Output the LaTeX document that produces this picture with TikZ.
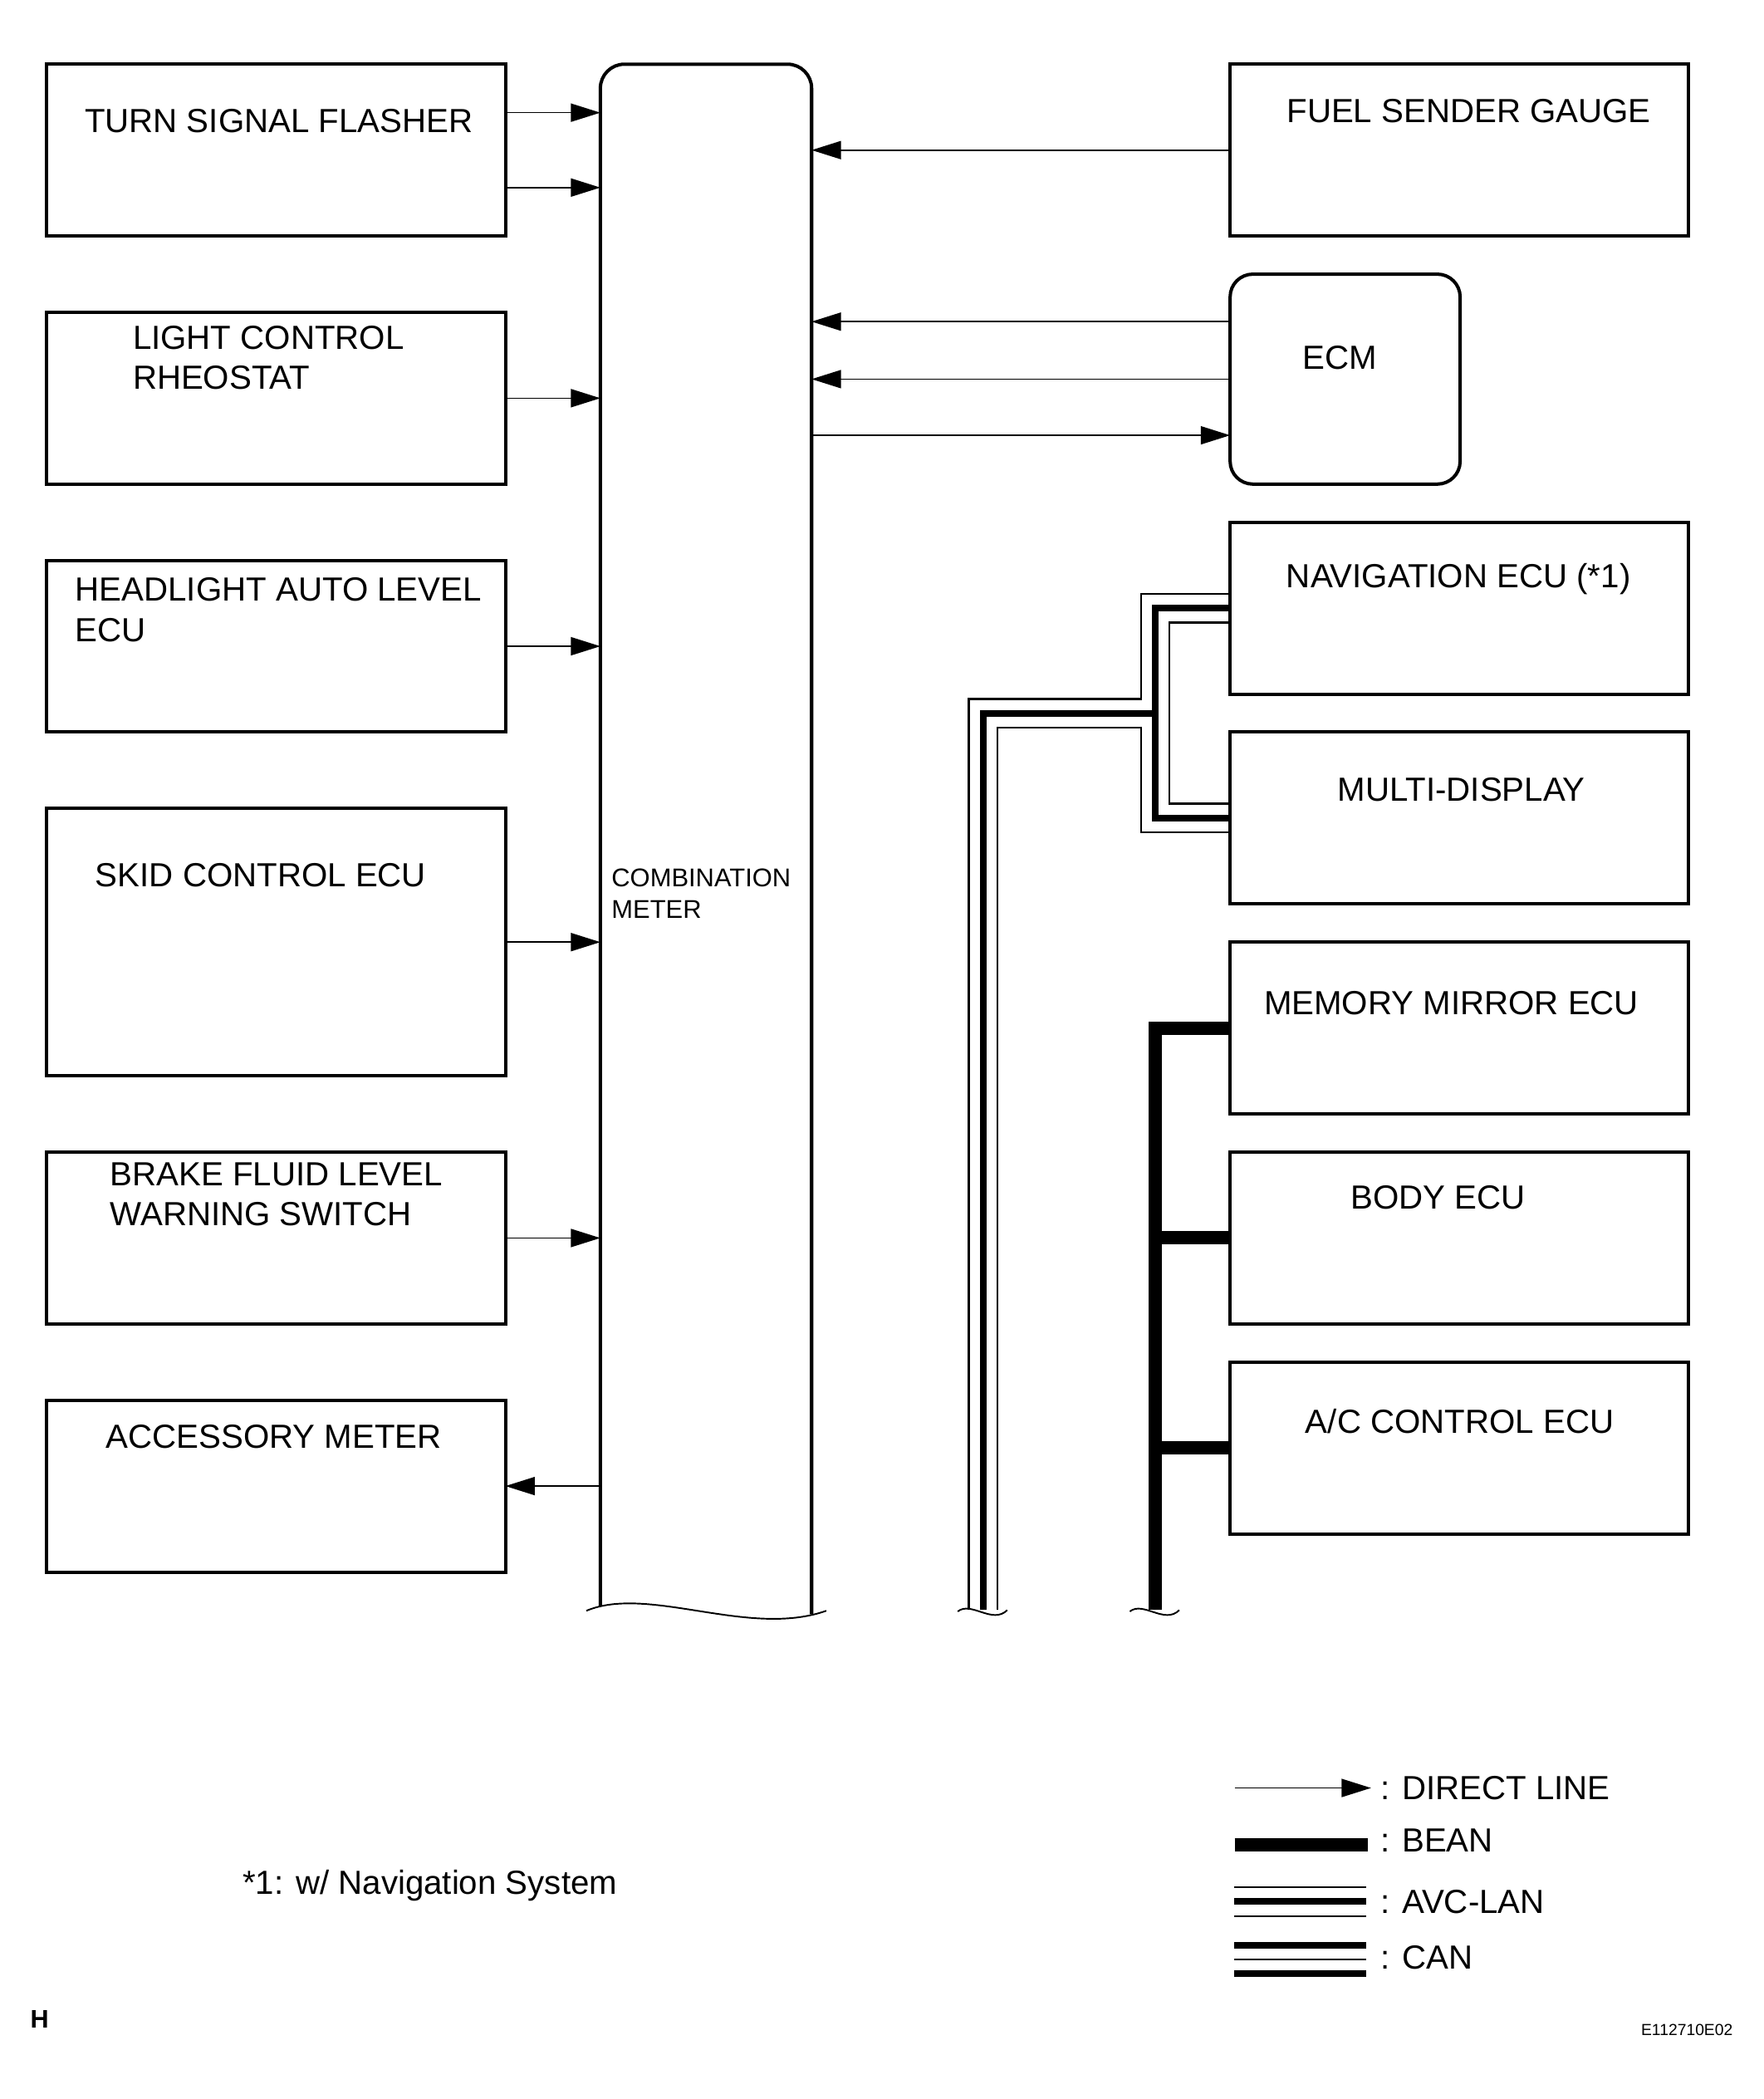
\documentclass[tikz,border=0pt]{standalone}
\usepackage{fontspec}
\setmainfont{Liberation Sans}
\usetikzlibrary{positioning}
\usetikzlibrary{arrows.meta}
\usetikzlibrary{calc}

\newcommand{\boxfont}{\fontsize{12.5}{15}\selectfont}
\newcommand{\meterfont}{\fontsize{9.6}{12}\selectfont}
\def\avcgap{10.75}

\tikzset{
  ecubox/.style={draw=black, line width=1.25pt, minimum width=171.5pt,
                 minimum height=64.25pt, inner sep=0pt, outer sep=0pt},
  lbl/.style={anchor=north west, inner sep=0pt, align=left, font=\boxfont},
  lgd/.style={anchor=west, inner sep=0pt, font=\boxfont},
  direct/.style={line width=0.5pt, -{Triangle[length=11pt,width=6.8pt]}},
  bean/.style={line width=5pt},
  avcthin/.style={line width=0.7pt},
  avcthick/.style={line width=2.5pt},
  brk/.style={line width=0.6pt},
}

\begin{document}
\begin{tikzpicture}[x=0.5pt, y=-0.5pt]

        \useasboundingbox (0,0) rectangle (1319.25,1569.6);

        \node (tsf) [ecubox, anchor=north west] at (35,48) {};
        \node (lcr) [ecubox, below=28.5pt of tsf] {};
        \node (hal) [ecubox, below=28.5pt of lcr] {};
        \node (skid) [ecubox, below=28.5pt of hal, minimum height=100pt] {};
        \node (brake) [ecubox, below=28.5pt of skid] {};
        \node (acc) [ecubox, below=28.5pt of brake] {};

        \node (fuel) [ecubox, anchor=north west] at (920,48) {};
        \node (ecm) [ecubox, below=14.25pt of fuel.south west, anchor=north west,
                     minimum width=86pt,
                     minimum height=78.5pt,
                     rounded corners=8.5pt,
                     ] {};
        \node (nav) [ecubox, below=14.25pt of ecm.south west, anchor=north west] {};
        \node (multi) [ecubox, below=14.25pt of nav] {};
        \node (mem) [ecubox, below=14.25pt of multi] {};
        \node (body) [ecubox, below=14.25pt of mem] {};
        \node (ac) [ecubox, below=14.25pt of body] {};

        \node[lbl] (tsf-t) at ([shift={(28,33)}]tsf.north west) {TURN SIGNAL FLASHER};
        \node[lbl] (lcr-t) at ([shift={(64,9.8)}]lcr.north west) {LIGHT CONTROL\\RHEOSTAT};
        \node[lbl] (hal-t) at ([shift={(21,12.7)}]hal.north west) {HEADLIGHT AUTO LEVEL\\ECU};
        \node[lbl] (skid-t) at ([shift={(36,40.5)}]skid.north west) {SKID CONTROL ECU};
        \node[lbl] (brake-t) at ([shift={(47,7.5)}]brake.north west) {BRAKE FLUID LEVEL\\WARNING SWITCH};
        \node[lbl] (acc-t) at ([shift={(44,18)}]acc.north west) {ACCESSORY METER};
        \node[lbl] (fuel-t) at ([shift={(42,26)}]fuel.north west) {FUEL SENDER GAUGE};
        \node[lbl] (ecm-t) at ([shift={(54,53)}]ecm.north west) {ECM};
        \node[lbl] (nav-t) at ([shift={(41.7,30.5)}]nav.north west) {NAVIGATION ECU (*1)};
        \node[lbl] (multi-t) at ([shift={(80,33.5)}]multi.north west) {MULTI-DISPLAY};
        \node[lbl] (mem-t) at ([shift={(25,36.5)}]mem.north west) {MEMORY MIRROR ECU};
        \node[lbl] (body-t) at ([shift={(90,24.5)}]body.north west) {BODY ECU};
        \node[lbl] (ac-t) at ([shift={(56,34.5)}]ac.north west) {A/C CONTROL ECU};

        \node (meter) [minimum width=79pt,
                       minimum height=576.5pt,
                       inner sep=0pt, outer sep=0pt,
                       anchor=north west,
                       ] at (449,48) {};
        \draw[line width=1.25pt, rounded corners=9pt] (meter.south west) -- (meter.north west)
            -- (meter.north east) -- ([yshift=-3pt]meter.south east);
        \draw[brk] ([shift={(-10.5,3.5)}]meter.south west)
            .. controls ([shift={(36,-16)}]meter.south west) and ([shift={(111,24)}]meter.south west)
            .. ([shift={(169,3.5)}]meter.south west);
        \node[lbl, font=\meterfont] (meter-t) at ([shift={(8,601)}]meter.north west) {COMBINATION\\METER};

        \draw[direct] ([yshift=14pt]tsf.east) -- ([yshift=14pt]tsf.east -| meter.west);
        \draw[direct] ([yshift=-14pt]tsf.east) -- ([yshift=-14pt]tsf.east -| meter.west);
        \foreach \n in {lcr,hal,skid,brake}
            \draw[direct] (\n.east) -- (\n.east -| meter.west);
        \draw[direct] (acc.east -| meter.west) -- (acc.east);

        \draw[direct] (fuel.west) -- (fuel.west -| meter.east);
        \draw[direct] ([yshift=21.5pt]ecm.west) -- ([yshift=21.5pt]ecm.west -| meter.east);
        \draw[direct] (ecm.west) -- (ecm.west -| meter.east);
        \draw[direct] ([yshift=-21pt]ecm.west -| meter.east) -- ([yshift=-21pt]ecm.west);

        \coordinate (avc-j) at (864,533.5);
        \coordinate (avc-e) at (735.3,1204);
        \draw[avcthick] (nav.west) -| (avc-j) |- (multi.west);
        \draw[avcthick] (avc-j) -| (avc-e);
        \draw[avcthin] ([shift={(0,-\avcgap)}]nav.west) -| ([shift={(-\avcgap,-\avcgap)}]avc-j)
            -| ([shift={(-\avcgap,0)}]avc-e);
        \draw[avcthin] ([shift={(0,\avcgap)}]nav.west) -| ([shift={(\avcgap,0)}]avc-j)
            |- ([shift={(0,-\avcgap)}]multi.west);
        \draw[avcthin] ([shift={(0,\avcgap)}]multi.west) -| ([shift={(-\avcgap,\avcgap)}]avc-j)
            -| ([shift={(\avcgap,0)}]avc-e);

        \coordinate (bean-top) at ([xshift=-28pt]mem.west);
        \coordinate (bean-e) at (bean-top |- avc-e);
        \draw[bean] (mem.west) -- (bean-top) -- (bean-e);
        \foreach \b in {body,ac}
            \draw[bean] (\b.west) -- (\b.west -| bean-top);

        \foreach \e in {avc-e,bean-e}
            \draw[brk] ([shift={(-19,1)}]\e) .. controls ([shift={(-9,-7)}]\e)
                and ([shift={(7,11)}]\e) .. ([shift={(18,0)}]\e);

        \node[lgd] (lg-direct) at (1032,1337) {: DIRECT LINE};
        \node[lgd] (lg-bean) at (1032,1376) {: BEAN};
        \node[lgd] (lg-avc) at (1032,1422) {: AVC-LAN};
        \node[lgd] (lg-can) at (1032,1464) {: CAN};
        \draw[direct] ([xshift=-54.3pt]lg-direct.west) -- ([xshift=-3.3pt]lg-direct.west);
        \draw[bean] ([xshift=-54.3pt, yshift=-1.85pt]lg-bean.west) -- ([xshift=-4.4pt, yshift=-1.85pt]lg-bean.west);
        \foreach \d/\s in {5.5pt/avcthin, 0pt/avcthick, -5.5pt/avcthin}
            \draw[\s] ([xshift=-54.5pt, yshift=\d]lg-avc.west) -- ([xshift=-5pt, yshift=\d]lg-avc.west);
        \foreach \d/\s in {4.8pt/avcthick, -0.6pt/avcthin, -6pt/avcthick}
            \draw[\s] ([xshift=-54.5pt, yshift=\d]lg-can.west) -- ([xshift=-5pt, yshift=\d]lg-can.west);

        \node[font=\boxfont, anchor=base west, inner sep=0pt] (note) at (181,1416.5) {*1: w/ Navigation System};
        \node[font=\fontsize{9.5}{11}\selectfont\bfseries, anchor=base west, inner sep=0pt] (hmark) at (22.4,1516.6) {H};
        \node[font=\fontsize{6}{7}\selectfont, anchor=base west, inner sep=0pt] (code) at (1227,1522) {E112710E02};

    \end{tikzpicture}
\end{document}
